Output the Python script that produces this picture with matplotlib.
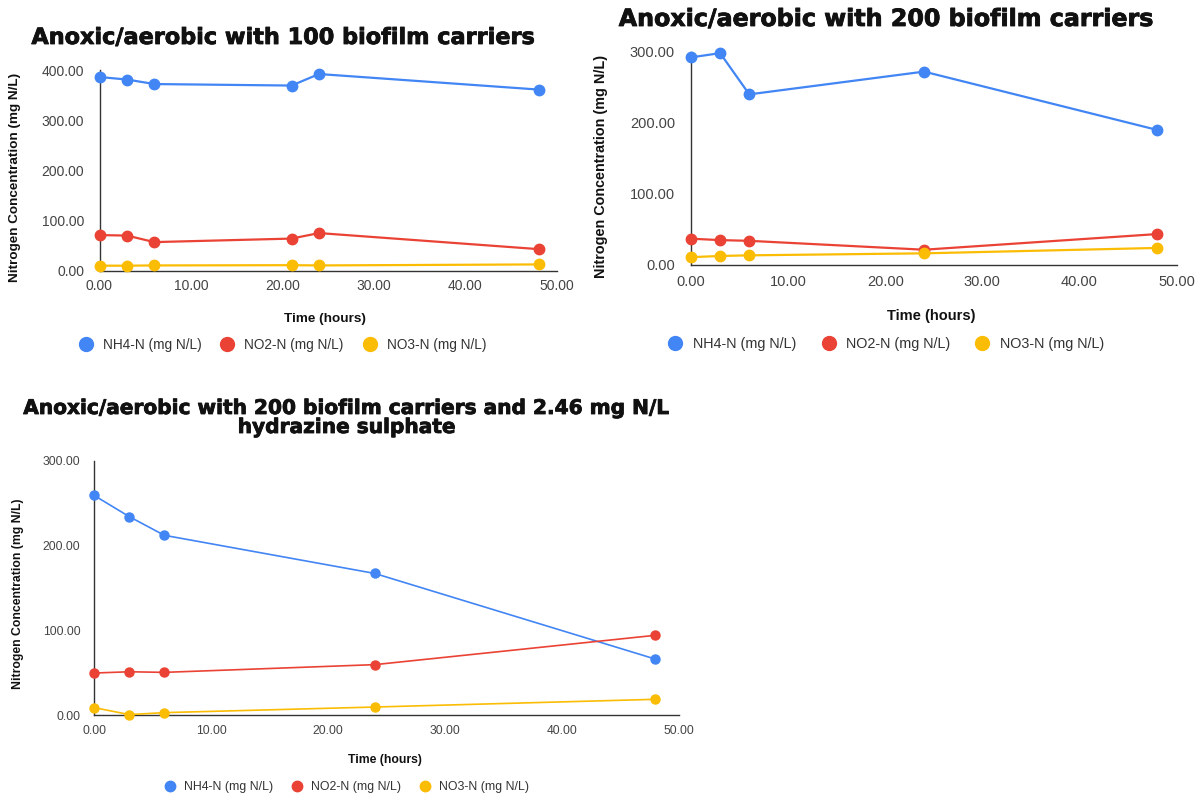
import matplotlib
matplotlib.use("Agg")
import matplotlib.pyplot as plt
import matplotlib.patheffects as pe
from matplotlib.lines import Line2D

plt.rcParams['font.family'] = ['Liberation Sans', 'DejaVu Sans']

# ---- data ----
series_names = ["NH4-N (mg N/L)", "NO2-N (mg N/L)", "NO3-N (mg N/L)"]
colors = ["#4285F4", "#EA4335", "#FBBC04"]

time_100 = [0, 3, 6, 21, 24, 48]
nh4_100 = [386, 381, 372, 369, 392, 361]
no2_100 = [71, 70, 57, 64, 75, 43]
no3_100 = [10, 10, 10.5, 11, 10.5, 12.5]

time_200 = [0, 3, 6, 24, 48]
nh4_200 = [292, 298, 240, 272, 190]
no2_200 = [37, 35, 34, 21.5, 43.5]
no3_200 = [11, 12.7, 13.6, 16.4, 24]

time_hyd = [0, 3, 6, 24, 48]
nh4_hyd = [259, 234, 212, 167, 66]
no2_hyd = [49.5, 51, 50.3, 59.4, 94]
no3_hyd = [8.7, 0.5, 2.8, 9.4, 18.5]

titles = ["Anoxic/aerobic with 100 biofilm carriers",
          "Anoxic/aerobic with 200 biofilm carriers",
          "Anoxic/aerobic with 200 biofilm carriers and 2.46 mg N/L\nhydrazine sulphate"]
x_ticks = [0, 10, 20, 30, 40, 50]
y_ticks_100 = [0, 100, 200, 300, 400]
y_ticks_200 = [0, 100, 200, 300]
xlabel = "Time (hours)"
ylabel = "Nitrogen Concentration (mg N/L)"

W, H = 1199, 798
fig = plt.figure(figsize=(W / 100, H / 100), dpi=100)
fig.patch.set_facecolor("white")


def px_axes(left, right, bottom, top):
    return fig.add_axes([left / W, 1 - bottom / H, (right - left) / W, (bottom - top) / H])


def make_chart(ax, t, ys, yticks, ymax, tick_fs, lw, ms, xpad, ypad):
    for y, c in zip(ys, colors):
        ax.plot(t, y, color=c, lw=lw, marker="o", ms=ms, clip_on=False, zorder=3)
    ax.set_xlim(0, 50)
    ax.set_ylim(0, ymax)
    ax.set_xticks(x_ticks)
    ax.set_xticklabels([f"{v:.2f}" for v in x_ticks])
    ax.set_yticks(yticks)
    ax.set_yticklabels([f"{v:.2f}" for v in yticks])
    for s in ["top", "right"]:
        ax.spines[s].set_visible(False)
    for s in ["left", "bottom"]:
        ax.spines[s].set_color("#333333")
        ax.spines[s].set_linewidth(1.0)
    ax.tick_params(length=0, labelsize=tick_fs, colors="#444444")
    ax.tick_params(axis="x", pad=xpad)
    ax.tick_params(axis="y", pad=ypad)


def ftext(x, y, s, fs, **kw):
    fig.text(x / W, 1 - y / H, s, ha="center", va="center", fontsize=fs, **kw)


def heavy_title(x, y, s, fs):
    ftext(x, y, s, fs, fontweight="bold", color="#111111", linespacing=1.0,
          family=["DejaVu Sans"],
          path_effects=[pe.Stroke(linewidth=0.6, foreground="#111111"), pe.Normal()])


def legend(cx, cy, fs, ms, htp, cs):
    handles = [Line2D([], [], ls="none", marker="o", ms=ms, color=c) for c in colors]
    fig.legend(handles, series_names, loc="center", bbox_to_anchor=(cx / W, 1 - cy / H),
               ncol=3, frameon=False, fontsize=fs, handletextpad=htp, columnspacing=cs,
               labelcolor="#333333", handlelength=1.0, borderaxespad=0, borderpad=0)


# chart 1
ax1 = px_axes(99.5, 556.8, 270.7, 70)
make_chart(ax1, time_100, [nh4_100, no2_100, no3_100], y_ticks_100, 400, 10, 1.6, 7.5, 6, 11)
heavy_title(283, 38, titles[0], 16.1)
ftext(325, 319, xlabel, 9.7, fontweight="bold", color="#111111")
ftext(15, 177, ylabel, 9.7, fontweight="bold", color="#111111", rotation=90)
legend(282.5, 345, 9.8, 10, 0.75, 1.41)

# chart 2
ax2 = px_axes(691, 1176.5, 265, 51.7)
make_chart(ax2, time_200, [nh4_200, no2_200, no3_200], y_ticks_200, 300, 10.5, 1.6, 7.5, 7, 11.5)
heavy_title(886, 19, titles[1], 17.1)
ftext(931, 316, xlabel, 10.5, fontweight="bold", color="#111111")
ftext(601, 166, ylabel, 10.4, fontweight="bold", color="#111111", rotation=90)
legend(886, 344, 10.4, 10, 0.68, 1.76)

# chart 3
ax3 = px_axes(94.2, 678.6, 715, 460.7)
make_chart(ax3, time_hyd, [nh4_hyd, no2_hyd, no3_hyd], y_ticks_200, 300, 8.7, 1.2, 6.5, 7, 10)
heavy_title(347, 418, titles[2], 14.5)
ftext(385, 760, xlabel, 8.8, fontweight="bold", color="#111111")
ftext(18, 594, ylabel, 8.8, fontweight="bold", color="#111111", rotation=90)
legend(346, 787, 8.9, 7.5, 0.63, 1.44)

fig.savefig("out.png", dpi=100, facecolor="white")
